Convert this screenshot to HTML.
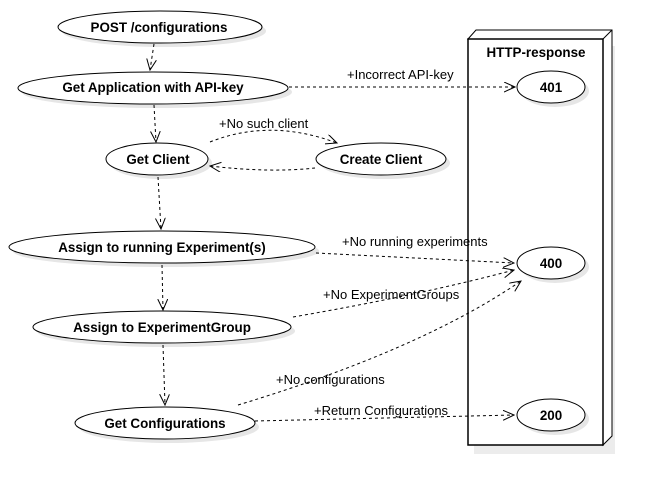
<!DOCTYPE html>
<html><head><meta charset="utf-8"><style>
html,body{margin:0;padding:0;background:#fff;width:650px;height:486px;overflow:hidden}
svg{display:block}
text{font-family:"Liberation Sans",sans-serif;fill:#000}
.b{font-weight:bold;font-size:13.4px;text-anchor:middle}
.l{font-size:13px}
.e{fill:#fff;stroke:#000;stroke-width:1}
.s{fill:#e6e6e6;stroke:none}
.c{fill:none;stroke:#000;stroke-width:1;stroke-dasharray:3,3}
.a{fill:none;stroke:#000;stroke-width:1}
</style></head><body>
<svg width="650" height="486" viewBox="0 0 650 486">
<defs>
<marker id="m" markerWidth="12" markerHeight="12" refX="11" refY="5" orient="auto" markerUnits="userSpaceOnUse">
<path d="M0,0 L11,5 L0,10" class="a"/>
</marker>
</defs>
<rect x="474" y="46" width="141" height="408" fill="#ececec"/>
<polygon points="468,39 476,30 612,30 612,436 603,445 603,39" fill="#fff" stroke="#000"/>
<line x1="603" y1="39" x2="612" y2="30" stroke="#000"/>
<rect x="468" y="39" width="135" height="406" fill="#fff" stroke="#000" stroke-width="1.5"/>
<text x="536" y="57" class="b">HTTP-response</text>

<ellipse class="s" cx="164" cy="31" rx="102" ry="16"/>
<ellipse class="s" cx="157" cy="92" rx="135" ry="16"/>
<ellipse class="s" cx="161" cy="163" rx="51" ry="16"/>
<ellipse class="s" cx="385" cy="163" rx="65" ry="16"/>
<ellipse class="s" cx="166" cy="251" rx="153" ry="16"/>
<ellipse class="s" cx="166" cy="331" rx="129" ry="16"/>
<ellipse class="s" cx="169" cy="427" rx="90" ry="16"/>
<ellipse class="s" cx="555" cy="91" rx="34" ry="16"/>
<ellipse class="s" cx="555" cy="267" rx="34" ry="16"/>
<ellipse class="s" cx="555" cy="419" rx="34" ry="16"/>

<path class="c" d="M154,44 L150,70" marker-end="url(#m)"/>
<path class="c" d="M154,105 L156,142" marker-end="url(#m)"/>
<path class="c" d="M210,142 Q270,118 337,143" marker-end="url(#m)"/>
<path class="c" d="M315,168 Q270,173 210,166" marker-end="url(#m)"/>
<path class="c" d="M158,177 L161,229" marker-end="url(#m)"/>
<path class="c" d="M162,265 L163,310" marker-end="url(#m)"/>
<path class="c" d="M163,345 L165,405" marker-end="url(#m)"/>
<path class="c" d="M289,87 L515,87" marker-end="url(#m)"/>
<path class="c" d="M316,253 L514,263" marker-end="url(#m)"/>
<path class="c" d="M293,317 Q420,295 514,270" marker-end="url(#m)"/>
<path class="c" d="M238,405 Q420,350 521,281" marker-end="url(#m)"/>
<path class="c" d="M255,421 L514,415" marker-end="url(#m)"/>

<ellipse class="e" cx="160" cy="27" rx="102" ry="16"/>
<ellipse class="e" cx="153" cy="88" rx="135" ry="16"/>
<ellipse class="e" cx="157" cy="159" rx="51" ry="16"/>
<ellipse class="e" cx="381" cy="159" rx="65" ry="16"/>
<ellipse class="e" cx="162" cy="247" rx="153" ry="16"/>
<ellipse class="e" cx="162" cy="327" rx="129" ry="16"/>
<ellipse class="e" cx="165" cy="423" rx="90" ry="16"/>
<ellipse class="e" cx="551" cy="87" rx="34" ry="16"/>
<ellipse class="e" cx="551" cy="263" rx="34" ry="16"/>
<ellipse class="e" cx="551" cy="415" rx="34" ry="16"/>

<text x="159" y="32" class="b">POST /configurations</text>
<text x="153" y="92" class="b">Get Application with API-key</text>
<text x="158" y="164" class="b">Get Client</text>
<text x="381" y="164" class="b">Create Client</text>
<text x="162" y="252" class="b">Assign  to running Experiment(s)</text>
<text x="162" y="332" class="b">Assign to ExperimentGroup</text>
<text x="165" y="428" class="b">Get Configurations</text>
<text x="551" y="92" class="b">401</text>
<text x="551" y="268" class="b">400</text>
<text x="551" y="420" class="b">200</text>

<text x="347" y="79" class="l">+Incorrect API-key</text>
<text x="219" y="128" class="l">+No such client</text>
<text x="342" y="246" class="l">+No running experiments</text>
<text x="323" y="299" class="l">+No ExperimentGroups</text>
<text x="276" y="384" class="l">+No configurations</text>
<text x="314" y="415" class="l">+Return Configurations</text>
</svg>
</body></html>
